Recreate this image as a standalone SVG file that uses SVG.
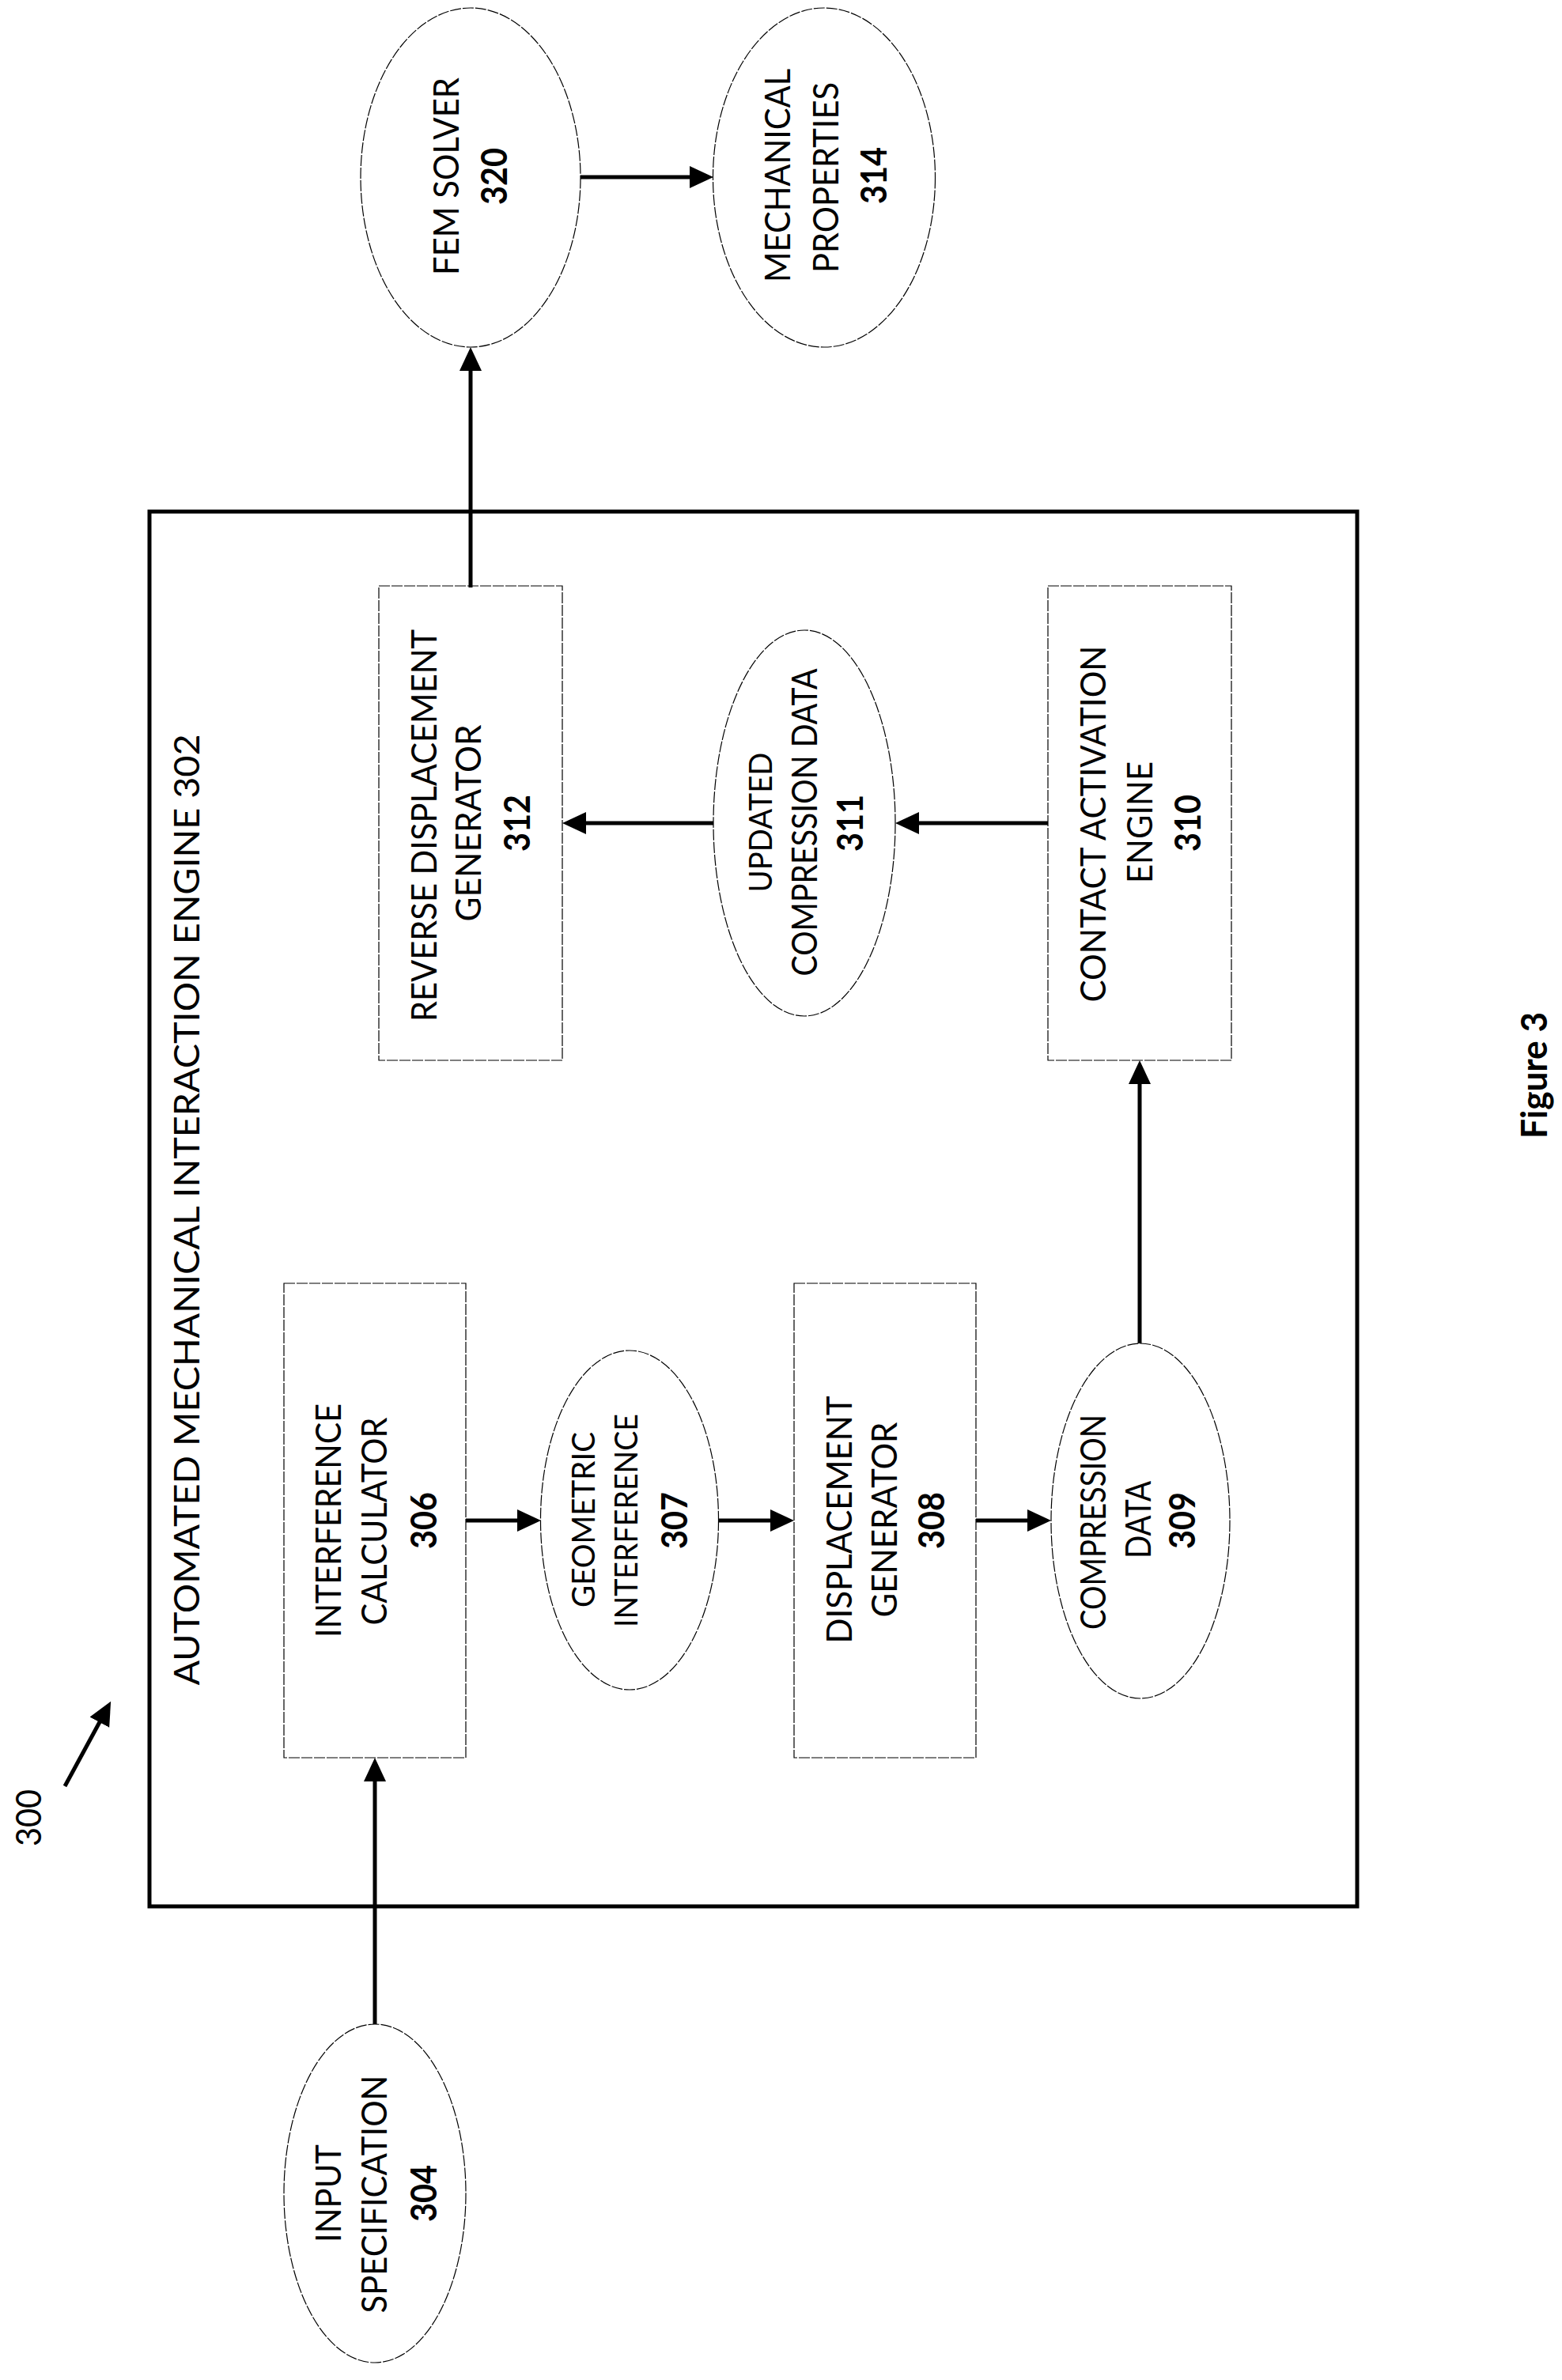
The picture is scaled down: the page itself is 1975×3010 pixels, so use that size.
<svg xmlns="http://www.w3.org/2000/svg" width="1975" height="3010" viewBox="0 0 1975 3010">
<defs>
<style>
.n{fill:none;stroke:#000;stroke-width:1.2;stroke-dasharray:14 2}
.o{fill:none;stroke:#000;stroke-width:5}
.c{fill:none;stroke:#000;stroke-width:5;marker-end:url(#ah)}
text{font-family:"Lato","Liberation Sans",sans-serif;font-size:45px;fill:#000;text-anchor:middle}
.b{font-weight:700}
.s{font-size:40px}
</style>
<marker id="ah" markerUnits="userSpaceOnUse" markerWidth="32" markerHeight="30" refX="15" refY="15" orient="auto"><path d="M0 1L30 15L0 29Z" fill="#000"/></marker>
</defs>
<rect width="1975" height="3010" fill="#fff"/>
<g id="engine-302">
<rect class="o" x="189" y="647" width="1527" height="1764"/>
<text transform="translate(252 1530) rotate(-90)" textLength="1203" lengthAdjust="spacingAndGlyphs">AUTOMATED MECHANICAL INTERACTION ENGINE 302</text>
</g>
<g id="fem-solver-320">
<ellipse class="n" cx="595" cy="224.5" rx="139" ry="214.5"/>
<text transform="translate(580 223) rotate(-90)" textLength="250" lengthAdjust="spacingAndGlyphs">FEM SOLVER</text>
<text class="b" transform="translate(641 223) rotate(-90)" textLength="72" lengthAdjust="spacingAndGlyphs">320</text>
</g>
<g id="mechanical-properties-314">
<ellipse class="n" cx="1042" cy="224.5" rx="140.5" ry="214.5"/>
<text transform="translate(999 222) rotate(-90)" textLength="270" lengthAdjust="spacingAndGlyphs">MECHANICAL</text>
<text transform="translate(1060 224.5) rotate(-90)" textLength="241" lengthAdjust="spacingAndGlyphs">PROPERTIES</text>
<text class="b" transform="translate(1121 222) rotate(-90)" textLength="72" lengthAdjust="spacingAndGlyphs">314</text>
</g>
<g id="reverse-displacement-312">
<rect class="n" x="479" y="741" width="232" height="600"/>
<text transform="translate(552 1044) rotate(-90)" textLength="496" lengthAdjust="spacingAndGlyphs">REVERSE DISPLACEMENT</text>
<text transform="translate(608 1041) rotate(-90)" textLength="249" lengthAdjust="spacingAndGlyphs">GENERATOR</text>
<text class="b" transform="translate(670 1041) rotate(-90)" textLength="72" lengthAdjust="spacingAndGlyphs">312</text>
</g>
<g id="updated-compression-311">
<ellipse class="n" cx="1017" cy="1041" rx="115" ry="244"/>
<text class="s" transform="translate(976 1040) rotate(-90)" textLength="177" lengthAdjust="spacingAndGlyphs">UPDATED</text>
<text transform="translate(1033 1040) rotate(-90)" textLength="389" lengthAdjust="spacingAndGlyphs">COMPRESSION DATA</text>
<text class="b" transform="translate(1091 1041) rotate(-90)" textLength="72" lengthAdjust="spacingAndGlyphs">311</text>
</g>
<g id="contact-activation-310">
<rect class="n" x="1325" y="741" width="232" height="600"/>
<text transform="translate(1398 1042) rotate(-90)" textLength="451" lengthAdjust="spacingAndGlyphs">CONTACT ACTIVATION</text>
<text transform="translate(1457 1040) rotate(-90)" textLength="154" lengthAdjust="spacingAndGlyphs">ENGINE</text>
<text class="b" transform="translate(1518 1041) rotate(-90)" textLength="72" lengthAdjust="spacingAndGlyphs">310</text>
</g>
<g id="interference-calculator-306">
<rect class="n" x="359" y="1623" width="230" height="600"/>
<text transform="translate(431 1923) rotate(-90)" textLength="296" lengthAdjust="spacingAndGlyphs">INTERFERENCE</text>
<text transform="translate(489 1924) rotate(-90)" textLength="263" lengthAdjust="spacingAndGlyphs">CALCULATOR</text>
<text class="b" transform="translate(552 1923) rotate(-90)" textLength="72" lengthAdjust="spacingAndGlyphs">306</text>
</g>
<g id="geometric-interference-307">
<ellipse class="n" cx="796" cy="1922.5" rx="112.5" ry="214.5"/>
<text class="s" transform="translate(752 1922) rotate(-90)" textLength="222" lengthAdjust="spacingAndGlyphs">GEOMETRIC</text>
<text class="s" transform="translate(806 1923) rotate(-90)" textLength="270" lengthAdjust="spacingAndGlyphs">INTERFERENCE</text>
<text class="b" transform="translate(869 1923) rotate(-90)" textLength="72" lengthAdjust="spacingAndGlyphs">307</text>
</g>
<g id="displacement-generator-308">
<rect class="n" x="1004" y="1623" width="230" height="600"/>
<text transform="translate(1077 1922) rotate(-90)" textLength="313" lengthAdjust="spacingAndGlyphs">DISPLACEMENT</text>
<text transform="translate(1134 1922) rotate(-90)" textLength="247" lengthAdjust="spacingAndGlyphs">GENERATOR</text>
<text class="b" transform="translate(1194 1923) rotate(-90)" textLength="72" lengthAdjust="spacingAndGlyphs">308</text>
</g>
<g id="compression-data-309">
<ellipse class="n" cx="1442" cy="1923.5" rx="113" ry="224.5"/>
<text transform="translate(1398 1925) rotate(-90)" textLength="272" lengthAdjust="spacingAndGlyphs">COMPRESSION</text>
<text transform="translate(1455 1922) rotate(-90)" textLength="98" lengthAdjust="spacingAndGlyphs">DATA</text>
<text class="b" transform="translate(1511 1923) rotate(-90)" textLength="72" lengthAdjust="spacingAndGlyphs">309</text>
</g>
<g id="input-specification-304">
<ellipse class="n" cx="474" cy="2774" rx="115" ry="214"/>
<text transform="translate(431 2774) rotate(-90)" textLength="124" lengthAdjust="spacingAndGlyphs">INPUT</text>
<text transform="translate(489 2775) rotate(-90)" textLength="301" lengthAdjust="spacingAndGlyphs">SPECIFICATION</text>
<text class="b" transform="translate(552 2774) rotate(-90)" textLength="72" lengthAdjust="spacingAndGlyphs">304</text>
</g>
<g id="label-300">
<text transform="translate(52 2299) rotate(-90)" textLength="72" lengthAdjust="spacingAndGlyphs">300</text>
</g>
<g id="figure-caption">
<text class="b" transform="translate(1956 1360) rotate(-90)" textLength="160" lengthAdjust="spacingAndGlyphs">Figure 3</text>
</g>
<g id="connectors">
<line class="c" x1="734" y1="224" x2="887" y2="224"/>
<line class="c" x1="595" y1="743" x2="595" y2="454"/>
<line class="c" x1="1325" y1="1041" x2="1147" y2="1041"/>
<line class="c" x1="902" y1="1041" x2="726" y2="1041"/>
<line class="c" x1="1441" y1="1699" x2="1441" y2="1356"/>
<line class="c" x1="589" y1="1923" x2="669" y2="1923"/>
<line class="c" x1="909" y1="1923" x2="989" y2="1923"/>
<line class="c" x1="1234" y1="1923" x2="1314" y2="1923"/>
<line class="c" x1="474" y1="2560" x2="474" y2="2238"/>
<line class="c" x1="82" y1="2259" x2="133" y2="2165"/>
</g>
</svg>
